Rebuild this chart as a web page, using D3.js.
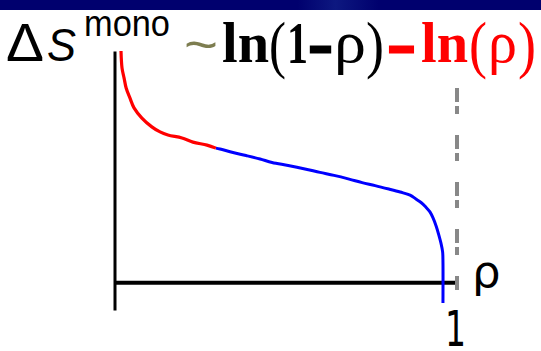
<!DOCTYPE html>
<html>
<head>
<meta charset="utf-8">
<script src="https://cdn.jsdelivr.net/npm/d3@7/dist/d3.min.js"></script>
<style>
  html, body { margin: 0; padding: 0; background: #ffffff; }
  svg { display: block; }
</style>
</head>
<body>
<svg id="chart" width="541" height="351"></svg>
<script>
// Entropy of mixing per monomer, sketched against the fraction rho.
// Steep part near rho = 0 (the -ln(rho) term)
const redRho = [0.019, 0.022, 0.028, 0.034, 0.045, 0.057, 0.080, 0.109, 0.133, 0.156, 0.197, 0.229, 0.270, 0.296];
const redS   = [10.0, 9.26, 8.83, 8.40, 7.97, 7.54, 7.10, 6.72, 6.50, 6.37, 6.24, 6.06, 5.93, 5.80];
// Remaining part, dropping off near rho = 1 (the ln(1-rho) term)
const blueRho = [0.296, 0.308, 0.346, 0.384, 0.425, 0.460, 0.507, 0.556, 0.600, 0.641, 0.685, 0.723, 0.761, 0.801,
                 0.834, 0.863, 0.880, 0.895, 0.909, 0.921, 0.930, 0.939, 0.947, 0.953, 0.958, 0.959, 0.959];
const blueS   = [5.80, 5.76, 5.61, 5.48, 5.33, 5.18, 5.05, 4.90, 4.75, 4.62, 4.46, 4.31, 4.18, 4.03,
                 3.90, 3.77, 3.60, 3.45, 3.25, 3.04, 2.78, 2.43, 2.04, 1.70, 1.31, 0.87, -0.90];

// Axis limits and the rho = 1 guide
const rhoDomain = [0, 1];
const sDomain = [-1.2, 10];
const rhoTicks = [1];
const guideRho = 1;
const guideSpan = [8.4, -0.46];

// Title pieces
const symbolParts = ["Δ", "S", "mono"];
const relation = "~";
const firstTerm = ["ln", "(", "1", "-", "ρ", ")"];
const secondTerm = ["-", "ln", "(", "ρ", ")"];
const axisName = "ρ";

const svg = d3.select("#chart");

// Header band with a faint lighter sheen
const defs = svg.append("defs");
const grad = defs.append("linearGradient").attr("id", "band").attr("x1", 0).attr("x2", 1).attr("y1", 0).attr("y2", 0);
grad.append("stop").attr("offset", "0").attr("stop-color", "#00006e");
grad.append("stop").attr("offset", "0.55").attr("stop-color", "#00006e");
grad.append("stop").attr("offset", "0.62").attr("stop-color", "#0d1880");
grad.append("stop").attr("offset", "0.70").attr("stop-color", "#00006e");
grad.append("stop").attr("offset", "1").attr("stop-color", "#00006e");
svg.append("rect").attr("x", 0).attr("y", 0).attr("width", 541).attr("height", 10).attr("fill", "url(#band)");

const x = d3.scaleLinear().domain(rhoDomain).range([114.5, 457]);
const y = d3.scaleLinear().domain(sDomain).range([310, 51]);

// Axes: bare lines, only the "1" label on rho
const yAxis = d3.axisLeft(y).tickValues([]).tickSizeOuter(0);
svg.append("g").attr("transform", `translate(${x(0)},0)`).call(yAxis)
  .call(g => g.select(".domain").attr("stroke", "#000").attr("stroke-width", 3));

const xAxis = d3.axisBottom(x).tickValues(rhoTicks).tickFormat(d3.format("d")).tickSize(0).tickSizeOuter(0).tickPadding(29);
svg.append("g").attr("transform", `translate(0,${y(0)})`).call(xAxis)
  .call(g => g.select(".domain").attr("stroke", "#000").attr("stroke-width", 4))
  .call(g => g.selectAll(".tick text")
    .attr("font-family", "DejaVu Sans").attr("font-size", 49).attr("fill", "#000")
    .attr("dx", -2)
    .attr("textLength", 21).attr("lengthAdjust", "spacingAndGlyphs"));

// Curve
const line = d3.line().x(d => x(d[0])).y(d => y(d[1])).curve(d3.curveCatmullRom.alpha(0.5));
const redPts = redRho.map((r, i) => [r, redS[i]]);
const bluePts = blueRho.map((r, i) => [r, blueS[i]]);

svg.append("path").datum(bluePts).attr("d", line)
  .attr("fill", "none").attr("stroke", "#0000ff").attr("stroke-width", 3).attr("stroke-linejoin", "round");
svg.append("path").datum(redPts).attr("d", line)
  .attr("fill", "none").attr("stroke", "#ff0000").attr("stroke-width", 3.2).attr("stroke-linejoin", "round");

// Dash-dot guide at rho = 1
svg.append("line")
  .attr("x1", x(guideRho)).attr("x2", x(guideRho))
  .attr("y1", y(guideSpan[0])).attr("y2", y(guideSpan[1]))
  .attr("stroke", "#888888").attr("stroke-width", 4)
  .attr("stroke-dasharray", "14,4,8,21");

// Axis name
svg.append("text").text(axisName)
  .attr("x", 472).attr("y", 287)
  .attr("font-family", "DejaVu Sans").attr("font-size", 45).attr("fill", "#000");

// Title
const sans = "Liberation Sans";
const serif = "Liberation Serif";
const titleLayout = [
  { t: symbolParts[0], x: 6,   y: 61, size: 53, w: 38, fam: sans,  fill: "#000" },
  { t: symbolParts[1], x: 47,  y: 61, size: 47, w: 29, fam: sans,  fill: "#000", style: "italic" },
  { t: symbolParts[2], x: 84,  y: 36, size: 36, w: 86, fam: sans,  fill: "#000" },
  { t: relation,       x: 184, y: 62, size: 50, w: 34, fam: sans,  fill: "#7d7d50" },
  { t: firstTerm[0],   x: 222, y: 62, size: 58, w: 47, fam: serif, fill: "#000", weight: "bold" },
  { t: firstTerm[1],   x: 269, y: 66, size: 64, w: 17, fam: serif, fill: "#000" },
  { t: firstTerm[2],   x: 287, y: 63, size: 60, w: 21, fam: serif, fill: "#000", weight: "bold" },
  { t: firstTerm[3],   x: 309, y: 63, size: 60, w: 23, fam: serif, fill: "#000", weight: "bold", thick: 3 },
  { t: firstTerm[4],   x: 334, y: 62, size: 60, w: 32, fam: serif, fill: "#000" },
  { t: firstTerm[5],   x: 366, y: 66, size: 64, w: 18, fam: serif, fill: "#000" },
  { t: secondTerm[0],  x: 388, y: 63, size: 60, w: 27, fam: serif, fill: "#ff0000", weight: "bold", thick: 3 },
  { t: secondTerm[1],  x: 421, y: 62, size: 58, w: 47, fam: serif, fill: "#ff0000", weight: "bold" },
  { t: secondTerm[2],  x: 469, y: 66, size: 64, w: 18, fam: serif, fill: "#ff0000" },
  { t: secondTerm[3],  x: 488, y: 62, size: 60, w: 29, fam: serif, fill: "#ff0000" },
  { t: secondTerm[4],  x: 518, y: 66, size: 64, w: 18, fam: serif, fill: "#ff0000" }
];
svg.append("g").selectAll("text").data(titleLayout).join("text")
  .text(d => d.t)
  .attr("x", d => d.x).attr("y", d => d.y)
  .attr("font-family", d => d.fam).attr("font-size", d => d.size)
  .attr("font-weight", d => d.weight || "normal").attr("font-style", d => d.style || "normal")
  .attr("fill", d => d.fill)
  .attr("stroke", d => d.thick ? d.fill : "none").attr("stroke-width", d => d.thick || 0)
  .attr("textLength", d => d.w).attr("lengthAdjust", "spacingAndGlyphs");
</script>
</body>
</html>
